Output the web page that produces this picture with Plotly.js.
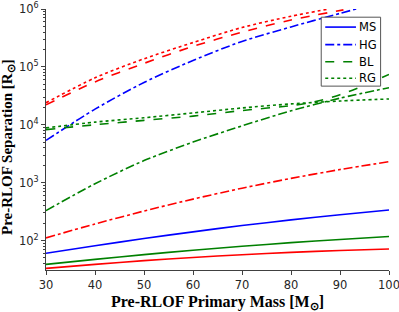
<!DOCTYPE html>
<html>
<head>
<meta charset="utf-8">
<script src="https://cdn.plot.ly/plotly-3.0.1.min.js"></script>
<style>html,body{margin:0;padding:0;background:#fff;}#chart{width:399px;height:312px;}</style>
</head>
<body>
<div id="chart"></div>
<script>
// Primary masses (M_sun)
var masses = [30, 40, 50, 60, 70, 80, 90, 100];
var massesBlueHG = [30, 40, 50, 60, 70, 80, 90, 93.3];
var massesRedBL = [30, 40, 50, 60, 70, 80, 90.7];
var massesRedRG = [30, 40, 50, 60, 70, 80, 87.7];
var massesGreenBL = [30, 40, 50, 60, 70, 80, 85, 90, 95, 100];

// Separations (R_sun)
var blueMS = [60, 81, 108, 141, 181, 227, 279, 337];
var blueHG = [5370, 18600, 53700, 129000, 275000, 490000, 841000, 1000000];
var greenMS = [38.6, 47.2, 57, 67.8, 79.4, 91.7, 104, 117];
var greenHG = [328, 955, 2400, 5010, 9550, 17400, 28800, 43700];
var greenBL = [8220, 10000, 11900, 14100, 17600, 21400, 25100, 33100, 47900, 74100];
var greenRG = [8810, 11100, 13200, 16000, 19500, 22900, 25700, 27900];
var redMS = [33, 38.7, 44.8, 50.8, 56.8, 62.2, 67.1, 71.1];
var redHG = [111, 193, 323, 519, 800, 1183, 1683, 2301];
var redBL = [22100, 55000, 115000, 226000, 398000, 646000, 966000];
var redRG = [24000, 64600, 138000, 263000, 479000, 750000, 1000000];

var legendNames = ['MS', 'HG', 'BL', 'RG'];
var yTickVals = [100, 1000, 10000, 100000, 1000000];
var yTickText = ['10<sup>2</sup>', '10<sup>3</sup>', '10<sup>4</sup>', '10<sup>5</sup>', '10<sup>6</sup>'];
var xTickVals = [30, 40, 50, 60, 70, 80, 90, 100];

var BLUE = '#0000ff', RED = '#ff0000', GREEN = '#008000';
var LW = 1.6;
var SANS = 'DejaVu Sans, Liberation Sans, Arial, sans-serif';
var SERIF = 'Liberation Serif, Times New Roman, serif';
function tr(x, y, color, dash, name) {
  return {x: x, y: y, type: 'scatter', mode: 'lines', name: name || '',
    showlegend: false,
    line: {color: color, width: LW, dash: dash, shape: 'spline', smoothing: 0.8}};
}
var data = [
  tr(masses, blueMS, BLUE, 'solid', legendNames[0]),
  tr(massesBlueHG, blueHG, BLUE, 'dashdot', legendNames[1]),
  tr(massesGreenBL, greenBL, GREEN, 'dash', legendNames[2]),
  tr(masses, greenRG, GREEN, 'dot', legendNames[3]),
  tr(masses, greenMS, GREEN, 'solid'),
  tr(masses, greenHG, GREEN, 'dashdot'),
  tr(masses, redMS, RED, 'solid'),
  tr(masses, redHG, RED, 'dashdot'),
  tr(massesRedBL, redBL, RED, 'dash'),
  tr(massesRedRG, redRG, RED, 'dot')
];

// hand-drawn legend (box, sample lines, labels) in paper coordinates
var legColors = [BLUE, BLUE, GREEN, GREEN];
var legDash = ['solid', 'dashdot', 'dash', 'dot'];
var legRowY = [0.9307, 0.8636, 0.7981, 0.7348];
var shapes = [{type: 'rect', xref: 'paper', yref: 'paper', x0: 0.8024, x1: 0.9755, y0: 0.7045, y1: 0.9686,
  line: {color: '#555', width: 1}, fillcolor: '#fff', layer: 'above'}];
var annotations = [];
for (var i = 0; i < legendNames.length; i++) {
  shapes.push({type: 'line', xref: 'paper', yref: 'paper', x0: 0.8141, x1: 0.9037, y0: legRowY[i], y1: legRowY[i],
    line: {color: legColors[i], width: LW, dash: legDash[i]}, layer: 'above'});
  annotations.push({xref: 'paper', yref: 'paper', x: 0.9070, y: legRowY[i], xanchor: 'left', yanchor: 'middle',
    text: legendNames[i], showarrow: false, font: {family: SANS, size: 11.5, color: '#000'}});
}
annotations.push({xref: 'paper', yref: 'paper', x: -0.109, y: 0.47, xanchor: 'center', yanchor: 'middle',
  textangle: -90, showarrow: false, text: 'Pre-RLOF Separation [R<sub>⊙</sub>]',
  font: {family: SERIF, size: 15, color: '#000', weight: 'bold'}});

var axisColor = '#404040';
var layout = {
  width: 399, height: 312,
  margin: {l: 46, r: 10, t: 9, b: 42},
  paper_bgcolor: '#fff', plot_bgcolor: '#fff',
  font: {family: SANS, size: 11.5, color: '#262626'},
  showlegend: false,
  xaxis: {
    range: [30, 100], tickvals: xTickVals, ticks: 'outside', ticklen: 4,
    tickcolor: axisColor, showline: true, linecolor: axisColor, linewidth: 1,
    showgrid: false, zeroline: false, mirror: false, ticklabeloverflow: 'allow',
    tickfont: {family: SANS, size: 11.5, color: '#262626'},
    title: {text: 'Pre-RLOF Primary Mass [M<sub>⊙</sub>]',
      font: {family: SERIF, size: 16, color: '#000', weight: 'bold'},
      standoff: 6}
  },
  yaxis: {
    type: 'log', range: [1.49, 6], tickvals: yTickVals, ticktext: yTickText,
    ticks: 'outside', ticklen: 4, tickcolor: axisColor, ticklabeloverflow: 'allow',
    showline: true, linecolor: axisColor, linewidth: 1,
    showgrid: false, zeroline: false, mirror: false,
    minor: {ticks: 'outside', ticklen: 2, tickcolor: axisColor, dtick: 'D1', showgrid: false},
    tickfont: {family: SANS, size: 11.5, color: '#262626'}
  },
  shapes: shapes,
  annotations: annotations
};
Plotly.newPlot('chart', data, layout, {staticPlot: true, displayModeBar: false});
</script>
</body>
</html>
